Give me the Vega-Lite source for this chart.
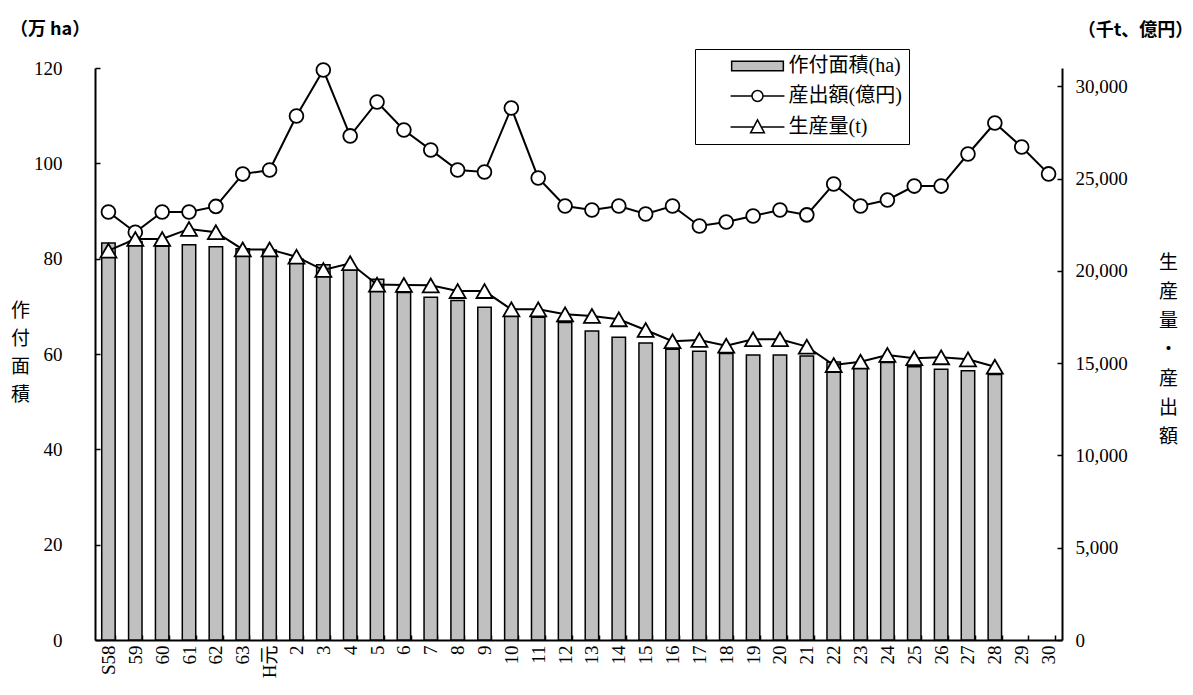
{
  "$schema": "https://vega.github.io/schema/vega-lite/v6.json",
  "width": 967,
  "height": 572,
  "autosize": {"type": "none"},
  "padding": {"left": 95, "top": 68, "right": 131, "bottom": 55},
  "background": "white",
  "title": {
    "text": "（万 ha）",
    "anchor": "start",
    "frame": "group",
    "dx": -85,
    "dy": 30,
    "offset": 12,
    "font": "Noto Sans CJK JP",
    "fontSize": 18,
    "fontWeight": "bold",
    "color": "black"
  },
  "data": {
    "values": [
      {"year": "S58", "area": 83.3, "output": 23200, "production": 21100},
      {"year": "59", "area": 83.6, "output": 22100, "production": 21730},
      {"year": "60", "area": 82.6, "output": 23200, "production": 21730},
      {"year": "61", "area": 82.9, "output": 23200, "production": 22280},
      {"year": "62", "area": 82.5, "output": 23500, "production": 22100},
      {"year": "63", "area": 82.1, "output": 25250, "production": 21170},
      {"year": "H元", "area": 81.8, "output": 25470, "production": 21170},
      {"year": "2", "area": 79.9, "output": 28400, "production": 20770},
      {"year": "3", "area": 78.7, "output": 30890, "production": 20050},
      {"year": "4", "area": 77.6, "output": 27320, "production": 20420},
      {"year": "5", "area": 75.7, "output": 29160, "production": 19260},
      {"year": "6", "area": 72.9, "output": 27640, "production": 19240},
      {"year": "7", "area": 71.9, "output": 26560, "production": 19220},
      {"year": "8", "area": 71.2, "output": 25470, "production": 18910},
      {"year": "9", "area": 69.8, "output": 25360, "production": 18910},
      {"year": "10", "area": 68.3, "output": 28830, "production": 17920},
      {"year": "11", "area": 67.7, "output": 25040, "production": 17920},
      {"year": "12", "area": 66.6, "output": 23520, "production": 17650},
      {"year": "13", "area": 64.8, "output": 23300, "production": 17560},
      {"year": "14", "area": 63.5, "output": 23520, "production": 17380},
      {"year": "15", "area": 62.3, "output": 23090, "production": 16800},
      {"year": "16", "area": 61.0, "output": 23520, "production": 16190},
      {"year": "17", "area": 60.6, "output": 22440, "production": 16260},
      {"year": "18", "area": 60.1, "output": 22650, "production": 15950},
      {"year": "19", "area": 59.8, "output": 22980, "production": 16300},
      {"year": "20", "area": 59.8, "output": 23300, "production": 16300},
      {"year": "21", "area": 59.6, "output": 23040, "production": 15900},
      {"year": "22", "area": 58.3, "output": 24710, "production": 14900},
      {"year": "23", "area": 57.0, "output": 23520, "production": 15080},
      {"year": "24", "area": 58.2, "output": 23850, "production": 15450},
      {"year": "25", "area": 57.3, "output": 24600, "production": 15270},
      {"year": "26", "area": 56.8, "output": 24600, "production": 15320},
      {"year": "27", "area": 56.5, "output": 26340, "production": 15210},
      {"year": "28", "area": 55.7, "output": 28020, "production": 14810},
      {"year": "29", "area": null, "output": 26720, "production": null},
      {"year": "30", "area": null, "output": 25260, "production": null}
    ]
  },
  "encoding": {
    "x": {
      "field": "year",
      "type": "nominal",
      "sort": null,
      "scale": {
        "domain": ["S58", "59", "60", "61", "62", "63", "H元", "2", "3", "4", "5", "6", "7", "8", "9", "10", "11", "12", "13", "14", "15", "16", "17", "18", "19", "20", "21", "22", "23", "24", "25", "26", "27", "28", "29", "30"],
        "paddingInner": 0.5,
        "paddingOuter": 0.25
      },
      "axis": {
        "title": "（千t、億円）",
        "titleX": 1040,
        "titleY": -610,
        "titleAngle": 0,
        "titleAlign": "center",
        "titleBaseline": "middle",
        "titleFont": "Noto Sans CJK JP",
        "titleFontSize": 18,
        "titleFontWeight": "bold",
        "labelAngle": -90,
        "labelFont": "Liberation Serif, Noto Sans CJK JP",
        "labelFontSize": 19,
        "labelPadding": 10,
        "labelOverlap": false,
        "tickBand": "extent",
        "tickSize": -5,
        "tickWidth": 1.5,
        "domainWidth": 2
      }
    }
  },
  "layer": [
    {
      "mark": {"type": "bar", "strokeWidth": 1.5},
      "encoding": {
        "y": {
          "field": "area",
          "type": "quantitative",
          "scale": {"domain": [0, 120]},
          "axis": {
            "title": ["作", "付", "面", "積"],
            "titleAngle": 0,
            "titleX": -75,
            "titleY": 242,
            "titleAlign": "center",
            "titleBaseline": "middle",
            "titleLineHeight": 28,
            "titleFont": "Noto Sans CJK JP",
            "titleFontSize": 19,
            "titleFontWeight": "normal",
            "values": [0, 20, 40, 60, 80, 100, 120],
            "labelFont": "Liberation Serif",
            "labelFontSize": 19,
            "labelPadding": 38,
            "tickSize": -5,
            "tickWidth": 1.5,
            "domainWidth": 2
          }
        },
        "fill": {
          "datum": "作付面積(ha)",
          "type": "nominal",
          "scale": {
            "domain": ["作付面積(ha)", "産出額(億円)", "生産量(t)", "産出額", "生産量"],
            "range": ["#c0c0c0", "white", "white", "white", "white"]
          },
          "legend": {
            "title": null,
            "orient": "none",
            "legendX": 600,
            "legendY": -19,
            "values": ["作付面積(ha)", "産出額(億円)", "生産量(t)"],
            "padding": 7,
            "strokeColor": "black",
            "fillColor": "white",
            "labelFont": "Liberation Serif, Noto Sans CJK JP",
            "labelFontSize": 20,
            "labelColor": "black",
            "labelLimit": 300,
            "symbolSize": 121,
            "symbolStrokeColor": "black",
            "symbolStrokeWidth": 1.5,
            "symbolOpacity": 1,
            "symbolOffset": 45.5,
            "labelOffset": 21,
            "rowPadding": 10
          }
        },
        "stroke": {
          "datum": "作付面積(ha)",
          "type": "nominal",
          "scale": {
            "domain": ["作付面積(ha)", "産出額(億円)", "生産量(t)", "産出額", "生産量"],
            "range": ["black", "black", "black", "black", "black"]
          },
          "legend": {
            "title": null,
            "orient": "none",
            "legendX": 600,
            "legendY": -19,
            "values": ["作付面積(ha)", "産出額(億円)", "生産量(t)"],
            "padding": 7,
            "strokeColor": "black",
            "fillColor": "white",
            "labelFont": "Liberation Serif, Noto Sans CJK JP",
            "labelFontSize": 20,
            "labelColor": "black",
            "labelLimit": 300,
            "symbolSize": 121,
            "symbolStrokeColor": "black",
            "symbolStrokeWidth": 1.5,
            "symbolOpacity": 1,
            "symbolOffset": 45.5,
            "labelOffset": 21,
            "rowPadding": 10
          }
        }
      }
    },
    {
      "layer": [
        {
          "mark": {"type": "line", "color": "black", "strokeWidth": 2},
          "encoding": {
            "y": {
              "field": "output",
              "type": "quantitative",
              "scale": {"domain": [0, 31000]},
              "axis": {
                "title": ["生", "産", "量", "・", "産", "出", "額"],
                "titleAngle": 0, "titleX": 106, "titleY": 194, "titleAlign": "center", "titleBaseline": "middle",
                "titleLineHeight": 29, "titleFont": "Noto Sans CJK JP", "titleFontSize": 19, "titleFontWeight": "normal",
                "values": [0, 5000, 10000, 15000, 20000, 25000, 30000], "format": ",d",
                "labelFont": "Liberation Serif", "labelFontSize": 19, "labelPadding": 18,
                "tickSize": -5, "tickWidth": 1.5, "domainWidth": 2
              }
            }
          }
        },
        {
          "mark": {"type": "line", "color": "black", "strokeWidth": 2},
          "encoding": {
            "y": {
              "field": "production",
              "type": "quantitative",
              "scale": {"domain": [0, 31000]},
              "axis": {
                "title": ["生", "産", "量", "・", "産", "出", "額"],
                "titleAngle": 0, "titleX": 106, "titleY": 194, "titleAlign": "center", "titleBaseline": "middle",
                "titleLineHeight": 29, "titleFont": "Noto Sans CJK JP", "titleFontSize": 19, "titleFontWeight": "normal",
                "values": [0, 5000, 10000, 15000, 20000, 25000, 30000], "format": ",d",
                "labelFont": "Liberation Serif", "labelFontSize": 19, "labelPadding": 18,
                "tickSize": -5, "tickWidth": 1.5, "domainWidth": 2
              }
            }
          }
        },
        {
          "mark": {"type": "point", "filled": true, "fill": "white", "stroke": "black", "strokeWidth": 1.8, "size": 190, "opacity": 1},
          "encoding": {
            "y": {
              "field": "output",
              "type": "quantitative",
              "scale": {"domain": [0, 31000]},
              "axis": {
                "title": ["生", "産", "量", "・", "産", "出", "額"],
                "titleAngle": 0, "titleX": 106, "titleY": 194, "titleAlign": "center", "titleBaseline": "middle",
                "titleLineHeight": 29, "titleFont": "Noto Sans CJK JP", "titleFontSize": 19, "titleFontWeight": "normal",
                "values": [0, 5000, 10000, 15000, 20000, 25000, 30000], "format": ",d",
                "labelFont": "Liberation Serif", "labelFontSize": 19, "labelPadding": 18,
                "tickSize": -5, "tickWidth": 1.5, "domainWidth": 2
              }
            },
            "shape": {
              "datum": "産出額",
              "type": "nominal",
              "scale": {
                "domain": ["作付面積(ha)", "産出額(億円)", "生産量(t)", "産出額", "生産量"],
                "range": [
                  "M-4.7,-0.85H4.7V0.85H-4.7Z",
                  "M-4.9,0H-1M1,0H4.9M-1,0A1,1,0,1,1,1,0A1,1,0,1,1,-1,0Z",
                  "M-4.9,0H-0.7M0.7,0H4.9M0,-1.3L1.25,1.05H-1.25Z",
                  "circle",
                  "triangle-up"
                ]
              },
              "legend": {
                "title": null,
                "orient": "none",
                "legendX": 600,
                "legendY": -19,
                "values": ["作付面積(ha)", "産出額(億円)", "生産量(t)"],
                "padding": 7,
                "strokeColor": "black",
                "fillColor": "white",
                "labelFont": "Liberation Serif, Noto Sans CJK JP",
                "labelFontSize": 20,
                "labelColor": "black",
                "labelLimit": 300,
                "symbolSize": 121,
                "symbolStrokeColor": "black",
                "symbolStrokeWidth": 1.5,
                "symbolOpacity": 1,
                "symbolOffset": 45.5,
                "labelOffset": 21,
                "rowPadding": 10
              }
            }
          }
        },
        {
          "mark": {"type": "point", "filled": true, "fill": "white", "stroke": "black", "strokeWidth": 1.8, "size": 256, "opacity": 1},
          "encoding": {
            "y": {
              "field": "production",
              "type": "quantitative",
              "scale": {"domain": [0, 31000]},
              "axis": {
                "title": ["生", "産", "量", "・", "産", "出", "額"],
                "titleAngle": 0, "titleX": 106, "titleY": 194, "titleAlign": "center", "titleBaseline": "middle",
                "titleLineHeight": 29, "titleFont": "Noto Sans CJK JP", "titleFontSize": 19, "titleFontWeight": "normal",
                "values": [0, 5000, 10000, 15000, 20000, 25000, 30000], "format": ",d",
                "labelFont": "Liberation Serif", "labelFontSize": 19, "labelPadding": 18,
                "tickSize": -5, "tickWidth": 1.5, "domainWidth": 2
              }
            },
            "shape": {
              "datum": "生産量",
              "type": "nominal",
              "legend": {
                "title": null,
                "orient": "none",
                "legendX": 600,
                "legendY": -19,
                "values": ["作付面積(ha)", "産出額(億円)", "生産量(t)"],
                "padding": 7,
                "strokeColor": "black",
                "fillColor": "white",
                "labelFont": "Liberation Serif, Noto Sans CJK JP",
                "labelFontSize": 20,
                "labelColor": "black",
                "labelLimit": 300,
                "symbolSize": 121,
                "symbolStrokeColor": "black",
                "symbolStrokeWidth": 1.5,
                "symbolOpacity": 1,
                "symbolOffset": 45.5,
                "labelOffset": 21,
                "rowPadding": 10
              }
            }
          }
        }
      ]
    }
  ],
  "resolve": {"scale": {"y": "independent"}},
  "config": {
    "view": {"stroke": null},
    "axis": {
      "grid": false,
      "domainColor": "black",
      "tickColor": "black",
      "labelColor": "black",
      "titleColor": "black"
    }
  }
}
